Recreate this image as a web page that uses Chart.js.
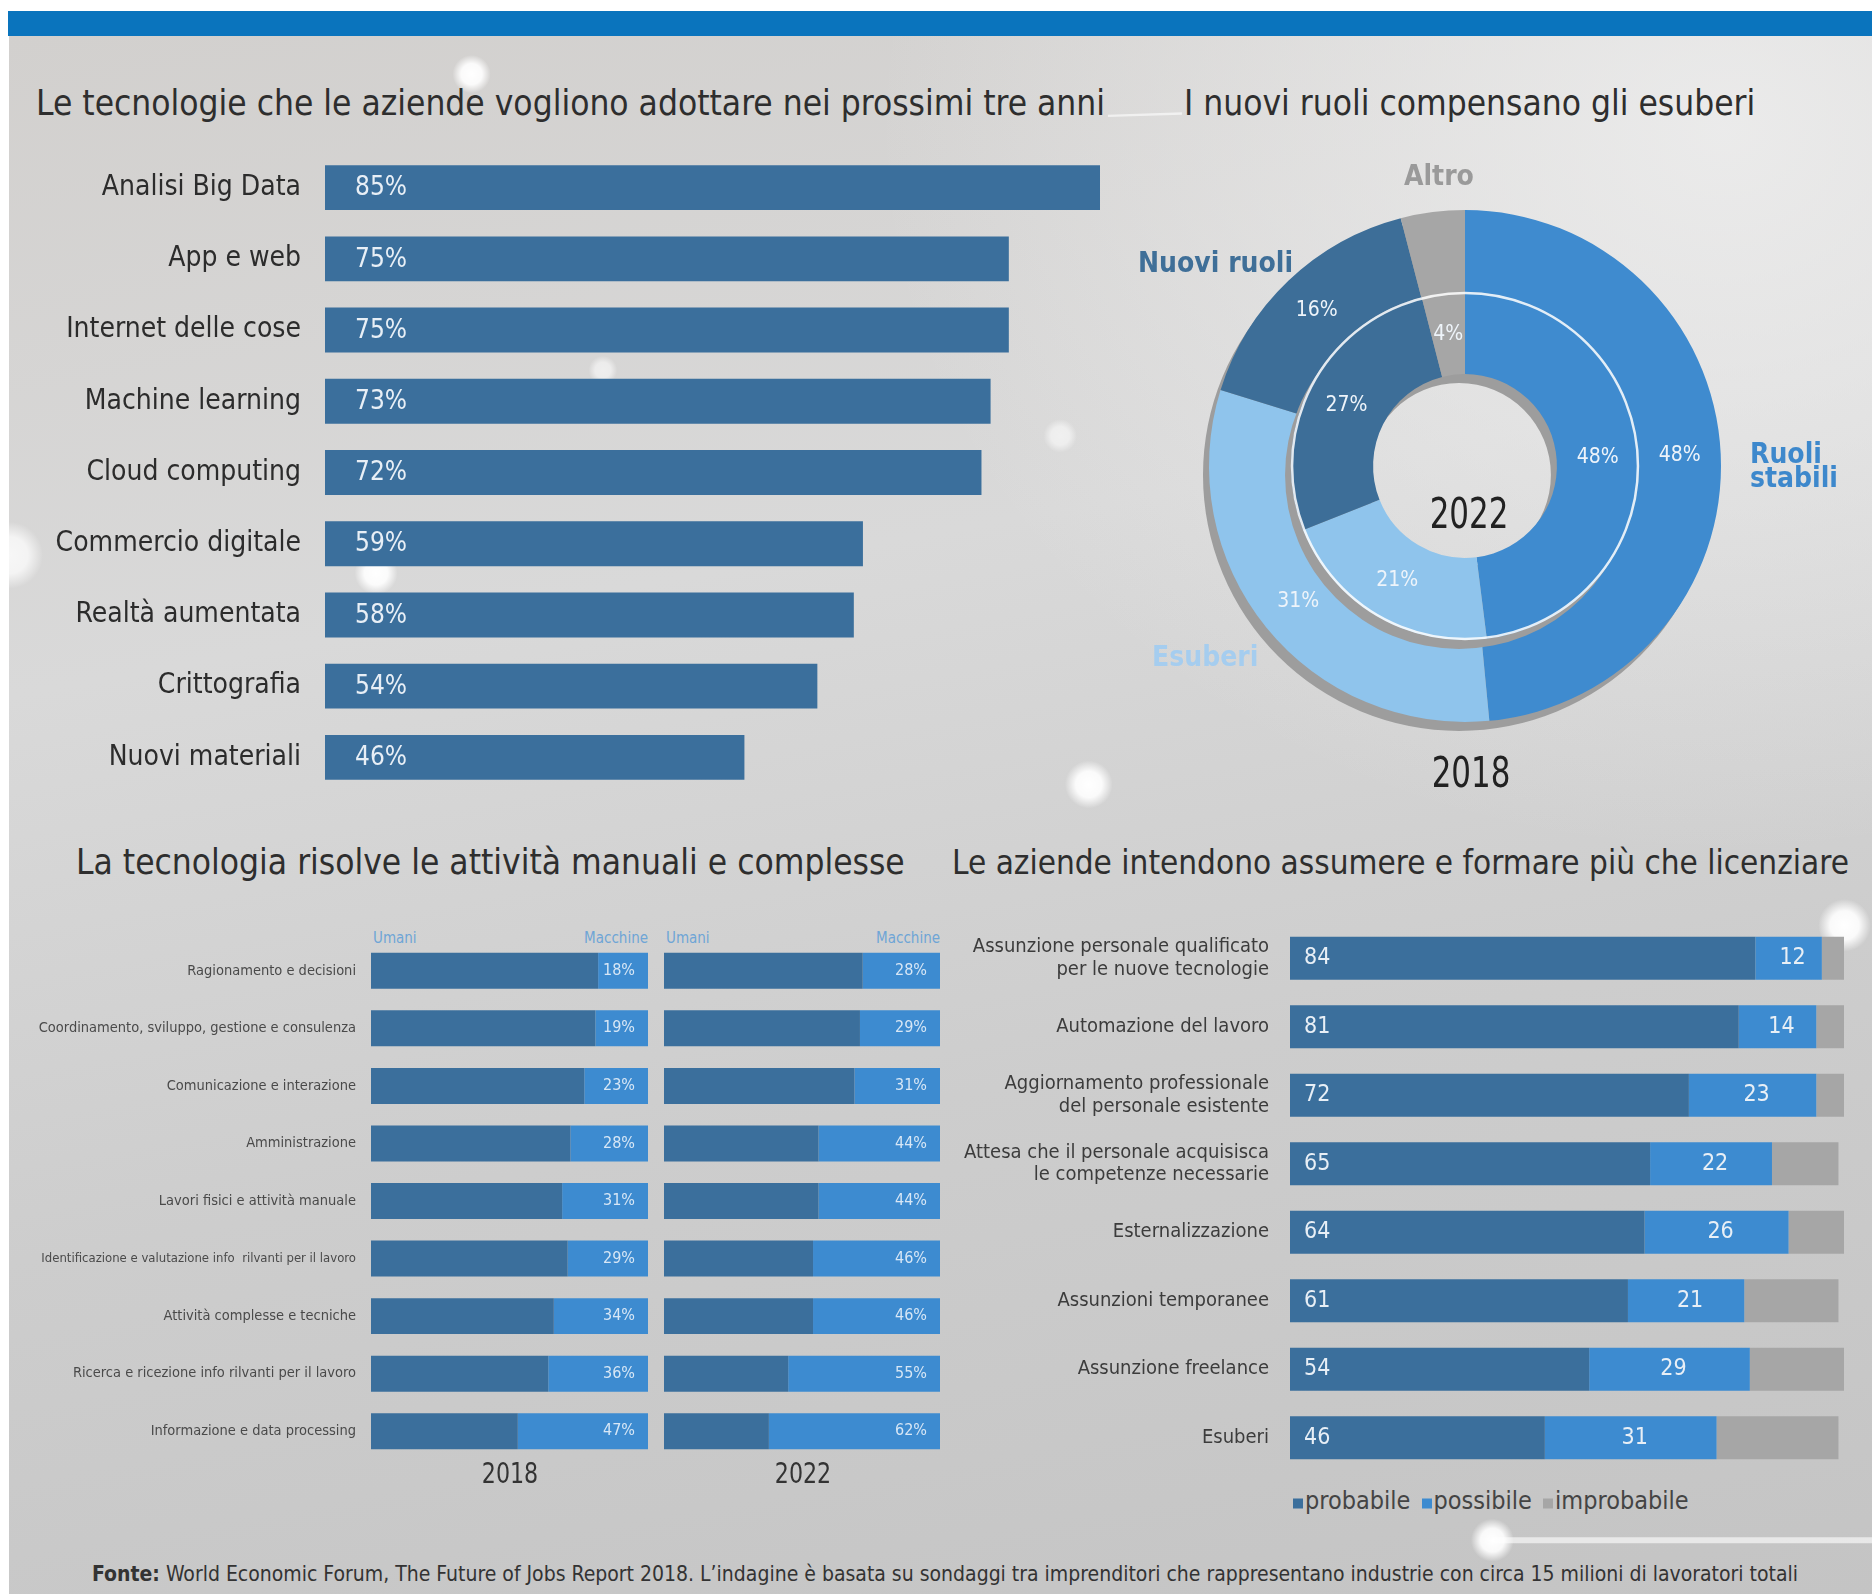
<!DOCTYPE html>
<html lang="it">
<head>
<meta charset="utf-8">
<title>Future of Jobs 2018</title>
<script src="https://cdn.jsdelivr.net/npm/chart.js@4.4.1/dist/chart.umd.min.js"></script>
<style>
  body { margin: 0; background: #fff; }
  #page { position: relative; width: 1872px; height: 1594px; overflow: hidden; background: #fff;
          font-family: "DejaVu Sans Condensed", "Liberation Sans Narrow", Roboto, sans-serif; color: #333; }
  #bg { position: absolute; left: 9px; top: 36px; right: 0; bottom: 0;
        background: radial-gradient(ellipse at 92% 6%, rgba(240,240,240,0.8) 0%, rgba(235,235,235,0) 35%),
                    linear-gradient(170deg, #d2d0ce 0%, #d9d9d9 35%, #cdcdcd 65%, #c4c4c4 100%); }
  #net { position: absolute; left: 0; top: 0; }
  #topband { position: absolute; left: 8px; top: 11px; right: 0; height: 25px; background: #0a74bd; }
  canvas { position: absolute; }
  .t { position: absolute; white-space: nowrap; line-height: 1; transform: translateY(-50%); }
  .title { font-size: 35px; color: #2e2e2e; }
  .lbl { font-weight: bold; font-size: 28px; }
  .year { font-size: 43px; color: #222; transform: translate(-50%, -50%) scaleX(0.8); }
  .small { font-size: 15px; color: #6ea5d6; }
  .legend span.sq { display: inline-block; width: 10px; height: 10px; margin-right: 2px; }
</style>
</head>
<body>
<div id="page">
  <div id="bg"></div>
  <svg id="net" width="1872" height="1594" viewBox="0 0 1568 1335">
    <defs>
      <radialGradient id="glow">
        <stop offset="0" stop-color="#fff" stop-opacity="1"/>
        <stop offset="0.55" stop-color="#fff" stop-opacity="0.9"/>
        <stop offset="1" stop-color="#fff" stop-opacity="0"/>
      </radialGradient>
    </defs>
    <g stroke="#fff" stroke-opacity="0.6" stroke-width="2" fill="none">
      <line x1="928" y1="97" x2="990" y2="95"/>
      <line x1="1250" y1="1290" x2="1568" y2="1290" stroke-width="5"/>
    </g>
    <g fill="url(#glow)">
      <circle cx="912" cy="657" r="20"/>
      <circle cx="315" cy="480" r="18"/>
      <circle cx="395" cy="62" r="16"/>
      <circle cx="888" cy="365" r="14" opacity="0.6"/>
      <circle cx="505" cy="310" r="12" opacity="0.6"/>
      <circle cx="1250" cy="1290" r="18"/>
      <circle cx="1545" cy="775" r="22"/>
      <circle cx="8" cy="465" r="28" opacity="0.8"/>
    </g>
  </svg>
  <div id="topband"></div>

  <div class="t title" style="left:36px; top:103px;">Le tecnologie che le aziende vogliono adottare nei prossimi tre anni</div>
  <div class="t title" style="left:1184px; top:103px;">I nuovi ruoli compensano gli esuberi</div>
  <div class="t title" style="left:76px; top:862px;">La tecnologia risolve le attività manuali e complesse</div>
  <div class="t title" style="left:952px; top:862px; font-size:33px;">Le aziende intendono assumere e formare più che licenziare</div>

  <canvas id="techChart" width="1100" height="641" style="left:0; top:152px;"></canvas>

  <canvas id="roleChart" width="600" height="600" style="left:1165px; top:166px;"></canvas>
  <div class="t lbl" style="left:1404px; top:176px; color:#9a9a9a;">Altro</div>
  <div class="t lbl" style="left:1138px; top:263px; color:#3f6f98;">Nuovi ruoli</div>
  <div class="t lbl" style="left:1750px; top:466px; color:#3d88cc; line-height:24px;">Ruoli<br>stabili</div>
  <div class="t lbl" style="left:1152px; top:657px; color:#a5cdef;">Esuberi</div>
  <div class="t year" style="left:1469px; top:513px;">2022</div>
  <div class="t year" style="left:1471px; top:772px;">2018</div>

  <div class="t small" style="left:373px; top:938px;">Umani</div>
  <div class="t small" style="left:648px; top:938px; transform:translate(-100%,-50%);">Macchine</div>
  <div class="t small" style="left:666px; top:938px;">Umani</div>
  <div class="t small" style="left:940px; top:938px; transform:translate(-100%,-50%);">Macchine</div>
  <canvas id="task2018" width="648" height="518" style="left:0; top:942px;"></canvas>
  <canvas id="task2022" width="276" height="518" style="left:664px; top:942px;"></canvas>
  <div class="t" style="left:510px; top:1473px; font-size:29px; transform:translate(-50%,-50%) scaleX(0.85);">2018</div>
  <div class="t" style="left:803px; top:1473px; font-size:29px; transform:translate(-50%,-50%) scaleX(0.85);">2022</div>

  <canvas id="stratChart" width="894" height="548" style="left:950px; top:924px;"></canvas>
  <div class="t legend" style="left:1293px; top:1500px; font-size:25px; color:#444;">
    <span class="sq" style="background:#3b6f9c"></span>probabile
    <span class="sq" style="background:#3d8bd0; margin-left:4px"></span>possibile
    <span class="sq" style="background:#a6a6a6; margin-left:4px"></span>improbabile
  </div>

  <div class="t" style="left:92px; top:1574px; font-size:21px; color:#333;"><b>Fonte:</b> World Economic Forum, The Future of Jobs Report 2018. L’indagine è basata su sondaggi tra imprenditori che rappresentano industrie con circa 15 milioni di lavoratori totali</div>
</div>

<script>
const FONT = '"DejaVu Sans Condensed", "Liberation Sans Narrow", Roboto, sans-serif';
const DARK = '#3b6f9c';
const MID = '#3d8bd0';
const LIGHT = '#8fc4ec';
const GREY = '#a6a6a6';
const VALUE_COLOR = '#e8eff6';

// --- data
const techLabels = ['Analisi Big Data', 'App e web', 'Internet delle cose', 'Machine learning', 'Cloud computing',
  'Commercio digitale', 'Realtà aumentata', 'Crittografia', 'Nuovi materiali'];
const techValues = [85, 75, 75, 73, 72, 59, 58, 54, 46];

const roleLabels = ['Ruoli stabili', 'Esuberi', 'Nuovi ruoli', 'Altro'];
const roles2018 = [48, 31, 16, 4];
const roles2022 = [48, 21, 27, 4];

const taskLabels = ['Ragionamento e decisioni', 'Coordinamento, sviluppo, gestione e consulenza',
  'Comunicazione e interazione', 'Amministrazione', 'Lavori fisici e attività manuale',
  'Identificazione e valutazione info  rilvanti per il lavoro', 'Attività complesse e tecniche',
  'Ricerca e ricezione info rilvanti per il lavoro', 'Informazione e data processing'];
const human2018 = [82, 81, 77, 72, 69, 71, 66, 64, 53];
const machine2018 = [18, 19, 23, 28, 31, 29, 34, 36, 47];
const human2022 = [72, 71, 69, 56, 56, 54, 54, 45, 38];
const machine2022 = [28, 29, 31, 44, 44, 46, 46, 55, 62];

const stratLabels = [['Assunzione personale qualificato', 'per le nuove tecnologie'], 'Automazione del lavoro',
  ['Aggiornamento professionale', 'del personale esistente'],
  ['Attesa che il personale acquisisca', 'le competenze necessarie'],
  'Esternalizzazione', 'Assunzioni temporanee', 'Assunzione freelance', 'Esuberi'];
const probabile = [84, 81, 72, 65, 64, 61, 54, 46];
const possibile = [12, 14, 23, 22, 26, 21, 29, 31];
const improbabile = [4, 5, 5, 12, 10, 17, 17, 22];

const noTip = { legend: { display: false }, tooltip: { enabled: false } };
const hiddenGrid = { display: false, drawTicks: false };

// fixed label column, no extra vertical padding from the tick labels
function labelColumn(width) {
  return s => { s.width = width; s.paddingTop = 0; s.paddingBottom = 0; };
}

// --- 1. Tecnologie
new Chart(document.getElementById('techChart').getContext('2d'), {
  type: 'bar',
  data: { labels: techLabels, datasets: [{ data: techValues, backgroundColor: DARK, categoryPercentage: 1, barPercentage: 0.63 }] },
  options: {
    indexAxis: 'y', responsive: false, animation: false, plugins: noTip,
    scales: {
      x: { display: false, min: 0, max: 85 },
      y: { grid: hiddenGrid, border: { display: false },
           ticks: { padding: 24, color: '#2c2c2c', font: { family: FONT, size: 28 } },
           afterFit: labelColumn(325) }
    }
  },
  plugins: [{
    id: 'techValues',
    afterDatasetsDraw(chart) {
      const ctx = chart.ctx;
      ctx.save();
      ctx.font = '26px ' + FONT; ctx.fillStyle = VALUE_COLOR;
      ctx.textBaseline = 'middle'; ctx.textAlign = 'left';
      chart.getDatasetMeta(0).data.forEach((bar, i) => ctx.fillText(techValues[i] + '%', bar.base + 30, bar.y + 1));
      ctx.restore();
    }
  }]
});

// --- 2. Ruoli (2018 outer ring, 2022 inner ring)
const donutDecor = {
  id: 'donutDecor',
  beforeDatasetDraw(chart, args) {
    // grey drop shadow under each ring
    const arc = args.meta.data[0];
    const { x, y, innerRadius, outerRadius } = arc.getProps(['x', 'y', 'innerRadius', 'outerRadius'], true);
    const ctx = chart.ctx;
    ctx.save();
    ctx.fillStyle = '#9d9d9d';
    ctx.beginPath();
    ctx.arc(x - 6, y + 9, outerRadius, 0, Math.PI * 2);
    ctx.arc(x - 6, y + 9, innerRadius, 0, Math.PI * 2, true);
    ctx.fill();
    ctx.restore();
  },
  afterDatasetDraw(chart, args) {
    if (args.index !== 1) return;
    const arc = args.meta.data[0];
    const { x, y, outerRadius } = arc.getProps(['x', 'y', 'outerRadius'], true);
    const ctx = chart.ctx;
    ctx.save();
    ctx.strokeStyle = 'rgba(255,255,255,0.85)'; ctx.lineWidth = 2.5;
    ctx.beginPath(); ctx.arc(x, y, outerRadius - 1, 0, Math.PI * 2); ctx.stroke();
    ctx.restore();
  },
  afterDatasetsDraw(chart) {
    const ctx = chart.ctx;
    ctx.save();
    ctx.font = '21px ' + FONT; ctx.fillStyle = '#eef4fa';
    ctx.textBaseline = 'middle'; ctx.textAlign = 'center';
    chart.data.datasets.forEach((ds, di) => {
      chart.getDatasetMeta(di).data.forEach((arc, i) => {
        if (di === 0 && i === 3) return; // outer "Altro" has no label
        const p = arc.tooltipPosition(true);
        ctx.fillText(ds.data[i] + '%', p.x, p.y);
      });
    });
    ctx.restore();
  }
};

new Chart(document.getElementById('roleChart').getContext('2d'), {
  type: 'doughnut',
  data: {
    labels: roleLabels,
    datasets: [
      { label: '2018', data: roles2018, backgroundColor: ['#3f8bcf', LIGHT, '#3d6e98', GREY], borderWidth: 0, weight: 82, order: 1 },
      { label: '2022', data: roles2022, backgroundColor: ['#3f8bcf', LIGHT, '#3d6e98', GREY], borderWidth: 0, weight: 82, order: 0 }
    ]
  },
  options: { responsive: false, animation: false, radius: 256, cutout: '35.9%', plugins: noTip },
  plugins: [donutDecor]
});

// --- 3. Umani vs macchine
function taskChart(id, human, machine, showLabels) {
  new Chart(document.getElementById(id).getContext('2d'), {
    type: 'bar',
    data: {
      labels: taskLabels,
      datasets: [
        { label: 'Umani', data: human, backgroundColor: DARK, categoryPercentage: 1, barPercentage: 0.625 },
        { label: 'Macchine', data: machine, backgroundColor: MID, categoryPercentage: 1, barPercentage: 0.625 }
      ]
    },
    options: {
      indexAxis: 'y', responsive: false, animation: false, plugins: noTip,
      scales: {
        x: { display: false, stacked: true, min: 0, max: 100 },
        y: { display: showLabels, stacked: true, grid: hiddenGrid, border: { display: false },
             ticks: { padding: 15, color: '#4a4a4a',
                      font: c => ({ family: FONT, size: c.index === 5 ? 13 : 14.5 }) },
             afterFit: labelColumn(showLabels ? 371 : 0) }
      }
    },
    plugins: [{
      id: 'machineValues',
      afterDatasetsDraw(chart) {
        const ctx = chart.ctx;
        ctx.save();
        ctx.font = '16px ' + FONT; ctx.fillStyle = 'rgba(232,241,250,0.9)';
        ctx.textBaseline = 'middle'; ctx.textAlign = 'right';
        chart.getDatasetMeta(1).data.forEach((bar, i) => ctx.fillText(machine[i] + '%', bar.x - 13, bar.y));
        ctx.restore();
      }
    }]
  });
}
taskChart('task2018', human2018, machine2018, true);
taskChart('task2022', human2022, machine2022, false);

// --- 4. Strategie
new Chart(document.getElementById('stratChart').getContext('2d'), {
  type: 'bar',
  data: {
    labels: stratLabels,
    datasets: [
      { label: 'probabile', data: probabile, backgroundColor: DARK, categoryPercentage: 1, barPercentage: 0.63 },
      { label: 'possibile', data: possibile, backgroundColor: MID, categoryPercentage: 1, barPercentage: 0.63 },
      { label: 'improbabile', data: improbabile, backgroundColor: GREY, categoryPercentage: 1, barPercentage: 0.63 }
    ]
  },
  options: {
    indexAxis: 'y', responsive: false, animation: false, plugins: noTip,
    scales: {
      x: { display: false, stacked: true, min: 0, max: 100 },
      y: { stacked: true, grid: hiddenGrid, border: { display: false },
           ticks: { padding: 21, color: '#3c3c3c', font: { family: FONT, size: 20, lineHeight: 1.13 } },
           afterFit: labelColumn(340) }
    }
  },
  plugins: [{
    id: 'stratValues',
    afterDatasetsDraw(chart) {
      const ctx = chart.ctx;
      ctx.save();
      ctx.font = '23px ' + FONT; ctx.fillStyle = VALUE_COLOR; ctx.textBaseline = 'middle';
      ctx.textAlign = 'left';
      chart.getDatasetMeta(0).data.forEach((bar, i) => ctx.fillText(probabile[i], bar.base + 14, bar.y));
      ctx.textAlign = 'center';
      chart.getDatasetMeta(1).data.forEach((bar, i) => ctx.fillText(possibile[i], (bar.base + bar.x) / 2 + 4, bar.y));
      ctx.restore();
    }
  }]
});
</script>
</body>
</html>
